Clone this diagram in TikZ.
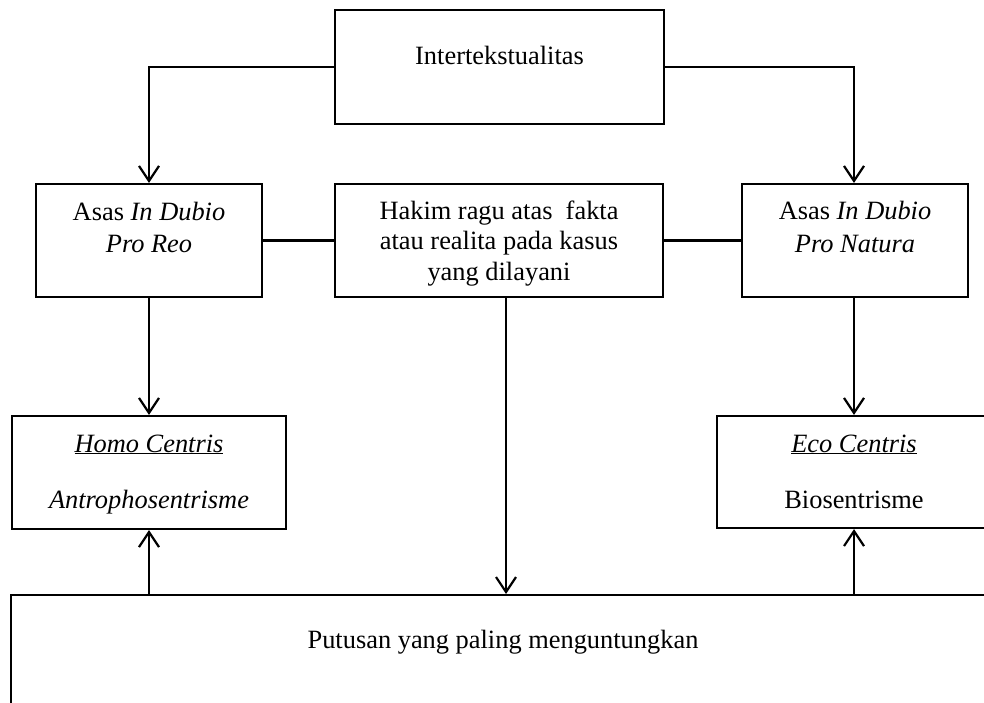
\documentclass[tikz,border=0pt]{standalone}
\usepackage{fontspec}
\setmainfont{Liberation Serif}
\usetikzlibrary{arrows.meta}
\begin{document}
\begin{tikzpicture}[x=1pt,y=-1pt,
  box/.style={draw, line width=2.2pt, inner sep=0pt},
  txt/.style={inner sep=0pt, anchor=base, font=\fontsize{26.4}{30}\selectfont},
  conn/.style={line width=2.2pt},
  arr/.style={conn, -{Straight Barb[length=15pt,width=20pt]}}]
\useasboundingbox (0,0) rectangle (984,703);
\clip (0,0) rectangle (984,703);
% boxes
\node[box, minimum width=329pt, minimum height=114pt] (inter) at (499.5,67) {};
\node[box, minimum width=226pt, minimum height=113pt] (proreo) at (149,240.5) {};
\node[box, minimum width=328pt, minimum height=113pt] (hakim) at (499,240.5) {};
\node[box, minimum width=226pt, minimum height=113pt] (pronat) at (855,240.5) {};
\node[box, minimum width=274pt, minimum height=113pt] (homo) at (149,472.5) {};
\node[box, minimum width=274pt, minimum height=112pt] (eco) at (854,472) {};
\node[box, anchor=north west, minimum width=1000pt, minimum height=150pt] (bot) at (10,594) {};
% texts
\node[txt] (t1) at (499.5,65) {Intertekstualitas};
\node[txt] (t2) at (149,221) {Asas \textit{In Dubio}};
\node[txt] (t3) at (149,252) {\textit{Pro Reo}};
\node[txt] (t4) at (499,219) {Hakim ragu atas \ fakta};
\node[txt] (t5) at (499,250) {atau realita pada kasus};
\node[txt] (t6) at (499,280) {yang dilayani};
\node[txt] (t7) at (855,220) {Asas \textit{In Dubio}};
\node[txt] (t8) at (855,252) {\textit{Pro Natura}};
\node[txt] (t9) at (149,452) {\underline{\textit{Homo Centris}}};
\node[txt] (t10) at (149,508) {\textit{Antrophosentrisme}};
\node[txt] (t11) at (854,452) {\underline{\textit{Eco Centris}}};
\node[txt] (t12) at (854,508) {Biosentrisme};
\node[txt] (t13) at (503,648) {Putusan yang paling menguntungkan};
% connectors
\coordinate (hk) at ([xshift=7pt]hakim.south);
\draw[arr] (inter.west) -| (proreo.north);
\draw[arr] (inter.east) -| (pronat.north -| eco.north);
\draw[conn] (proreo.east) -- (hakim.west);
\draw[conn] (hakim.east) -- (pronat.west);
\draw[arr] (proreo.south) -- (homo.north);
\draw[arr] (pronat.south -| eco.north) -- (eco.north);
\draw[arr] (hk) -- (hk |- bot.north);
\draw[arr] (bot.north -| homo.south) -- (homo.south);
\draw[arr] (bot.north -| eco.south) -- (eco.south);
\end{tikzpicture}
\end{document}
